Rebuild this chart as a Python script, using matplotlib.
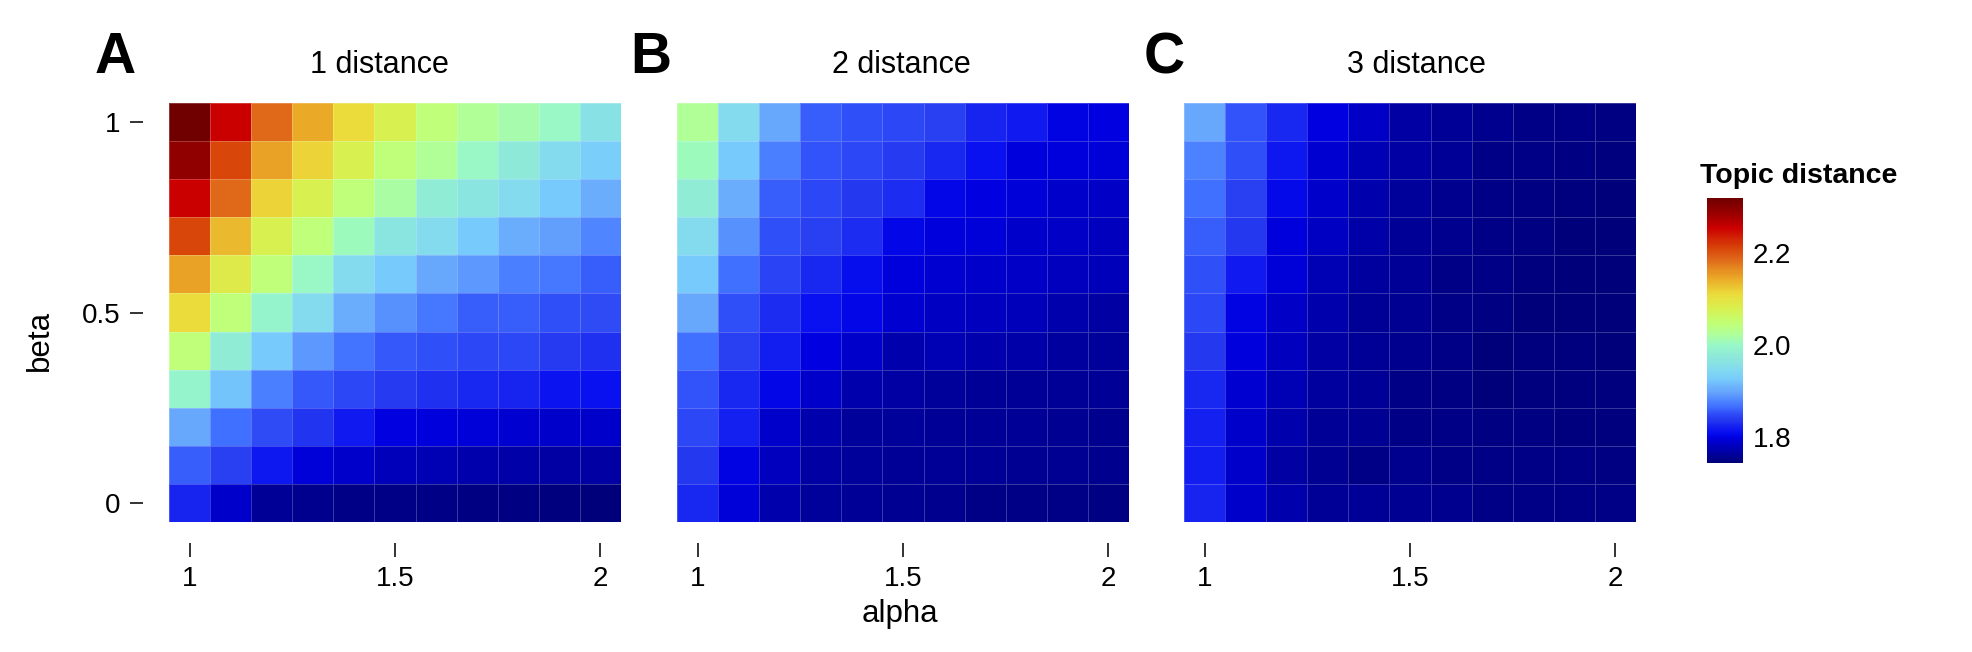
import numpy as np
import matplotlib
matplotlib.use("Agg")
import matplotlib.pyplot as plt
from matplotlib.colors import LinearSegmentedColormap, Normalize

plt.rcParams["font.family"] = ["Liberation Sans", "DejaVu Sans"]

alpha = [1.0, 1.1, 1.2, 1.3, 1.4, 1.5, 1.6, 1.7, 1.8, 1.9, 2.0]
# rows from top (beta = 1) to bottom (beta = 0)
beta = [1.0, 0.9, 0.8, 0.7, 0.6, 0.5, 0.4, 0.3, 0.2, 0.1, 0.0]

dist1 = [
    [2.320, 2.255, 2.185, 2.145, 2.110, 2.080, 2.045, 2.025, 2.015, 2.000, 1.960],
    [2.295, 2.210, 2.150, 2.115, 2.080, 2.045, 2.025, 2.000, 1.975, 1.950, 1.930],
    [2.255, 2.185, 2.115, 2.080, 2.045, 2.020, 1.980, 1.965, 1.950, 1.925, 1.905],
    [2.210, 2.135, 2.080, 2.045, 2.005, 1.965, 1.950, 1.925, 1.905, 1.895, 1.880],
    [2.150, 2.090, 2.045, 2.000, 1.950, 1.925, 1.900, 1.890, 1.875, 1.870, 1.857],
    [2.110, 2.045, 1.995, 1.950, 1.905, 1.885, 1.870, 1.857, 1.857, 1.850, 1.847],
    [2.045, 1.980, 1.925, 1.890, 1.868, 1.855, 1.850, 1.845, 1.845, 1.838, 1.832],
    [1.995, 1.920, 1.875, 1.855, 1.845, 1.838, 1.832, 1.828, 1.826, 1.815, 1.812],
    [1.900, 1.865, 1.847, 1.834, 1.818, 1.798, 1.797, 1.793, 1.790, 1.788, 1.786],
    [1.857, 1.840, 1.816, 1.793, 1.786, 1.778, 1.775, 1.772, 1.769, 1.767, 1.767],
    [1.826, 1.786, 1.759, 1.755, 1.752, 1.750, 1.750, 1.748, 1.748, 1.746, 1.744],
]

dist2 = [
    [2.025, 1.950, 1.900, 1.857, 1.850, 1.845, 1.842, 1.825, 1.818, 1.801, 1.799],
    [2.005, 1.925, 1.875, 1.852, 1.845, 1.838, 1.828, 1.812, 1.797, 1.797, 1.793],
    [1.980, 1.905, 1.857, 1.846, 1.837, 1.830, 1.803, 1.799, 1.793, 1.788, 1.784],
    [1.950, 1.885, 1.850, 1.840, 1.830, 1.803, 1.797, 1.793, 1.788, 1.784, 1.780],
    [1.925, 1.866, 1.843, 1.828, 1.810, 1.797, 1.790, 1.788, 1.784, 1.780, 1.778],
    [1.900, 1.850, 1.830, 1.812, 1.803, 1.790, 1.782, 1.780, 1.778, 1.772, 1.767],
    [1.866, 1.840, 1.820, 1.799, 1.788, 1.772, 1.776, 1.772, 1.769, 1.765, 1.763],
    [1.852, 1.828, 1.803, 1.786, 1.772, 1.767, 1.763, 1.761, 1.761, 1.761, 1.759],
    [1.845, 1.822, 1.788, 1.772, 1.763, 1.763, 1.761, 1.759, 1.759, 1.757, 1.755],
    [1.836, 1.801, 1.780, 1.767, 1.763, 1.761, 1.759, 1.759, 1.757, 1.757, 1.755],
    [1.828, 1.793, 1.772, 1.763, 1.759, 1.757, 1.755, 1.752, 1.752, 1.750, 1.748],
]

dist3 = [
    [1.900, 1.852, 1.828, 1.799, 1.784, 1.767, 1.761, 1.755, 1.752, 1.750, 1.748],
    [1.878, 1.850, 1.816, 1.790, 1.776, 1.767, 1.759, 1.752, 1.750, 1.748, 1.746],
    [1.866, 1.840, 1.806, 1.786, 1.772, 1.763, 1.755, 1.750, 1.748, 1.746, 1.744],
    [1.857, 1.836, 1.797, 1.782, 1.769, 1.761, 1.755, 1.750, 1.748, 1.744, 1.744],
    [1.850, 1.818, 1.793, 1.776, 1.765, 1.759, 1.752, 1.750, 1.746, 1.744, 1.744],
    [1.845, 1.801, 1.784, 1.772, 1.761, 1.757, 1.752, 1.748, 1.744, 1.744, 1.744],
    [1.836, 1.795, 1.780, 1.767, 1.761, 1.755, 1.750, 1.744, 1.746, 1.746, 1.744],
    [1.828, 1.790, 1.776, 1.765, 1.759, 1.752, 1.748, 1.744, 1.746, 1.746, 1.746],
    [1.822, 1.788, 1.772, 1.759, 1.757, 1.752, 1.750, 1.748, 1.748, 1.746, 1.746],
    [1.820, 1.786, 1.767, 1.757, 1.752, 1.755, 1.752, 1.750, 1.750, 1.750, 1.748],
    [1.825, 1.788, 1.772, 1.761, 1.759, 1.757, 1.755, 1.752, 1.752, 1.750, 1.750],
]

panels = [dist1, dist2, dist3]
titles = ["1 distance", "2 distance", "3 distance"]
tags = ["A", "B", "C"]

vmin, vmax = 1.743, 2.32
cb_ticks = [1.8, 2.0, 2.2]

# jet-like palette, as it looks in the picture
stops = [
    (1.743, "#00007A"), (1.760, "#000098"), (1.780, "#0000C0"), (1.797, "#0000E0"),
    (1.810, "#0810F0"), (1.822, "#1420F0"), (1.836, "#2438F0"), (1.850, "#3050F8"),
    (1.865, "#4070FF"), (1.880, "#5088FF"), (1.900, "#68A8FC"), (1.925, "#78CCFC"),
    (1.950, "#84DCEC"), (1.980, "#90ECD4"), (2.000, "#98F8C8"), (2.025, "#B0FF98"),
    (2.045, "#C0FF78"), (2.080, "#D8F050"), (2.110, "#EBDC3C"), (2.145, "#EBAA28"),
    (2.185, "#E06A1A"), (2.210, "#D8480A"), (2.255, "#CC0000"), (2.295, "#900000"),
    (2.320, "#700000"),
]
cmap = LinearSegmentedColormap.from_list(
    "topic", [((v - vmin) / (vmax - vmin), c) for v, c in stops])
norm = Normalize(vmin=vmin, vmax=vmax)

W, H = 1972, 652
fig = plt.figure(figsize=(W / 100, H / 100), dpi=100)


def fx(px):
    return px / W


def fy(py):
    return 1 - py / H


a = np.array(alpha)
b = np.array(beta)
x_edges = np.append(a - 0.05, a[-1] + 0.05)
y_edges = np.append(b + 0.05, b[-1] - 0.05)

lefts = [169, 677, 1184]
title_x = [379, 901, 1416]
tag_x = [115, 651, 1164]

for i, data in enumerate(panels):
    ax = fig.add_axes([fx(lefts[i]), fy(522), 452 / W, 419 / H])
    mesh = ax.pcolormesh(x_edges, y_edges, np.array(data), cmap=cmap, norm=norm,
                         edgecolors=(1, 1, 1, 0.22), linewidth=0.7)
    ax.set_xlim(0.95, 2.05)
    ax.set_ylim(-0.05, 1.05)
    for s in ax.spines.values():
        s.set_visible(False)
    ax.spines["bottom"].set_position(("outward", 15))
    ax.spines["left"].set_position(("outward", 18.5))
    ax.set_xticks([1, 1.5, 2])
    ax.set_xticklabels(["1", "1.5", "2"])
    ax.tick_params(axis="x", length=10, width=1.4, color="#333333", pad=7,
                   labelsize=20)
    if i == 0:
        ax.set_yticks([0, 0.5, 1])
        ax.set_yticklabels(["0", "0.5", "1"])
        ax.tick_params(axis="y", length=9.5, width=1.4, color="#333333", pad=7,
                       labelsize=20)
    else:
        ax.tick_params(axis="y", left=False, labelleft=False)
    fig.text(fx(title_x[i]), fy(73), titles[i], ha="center", va="baseline",
             fontsize=22)
    fig.text(fx(tag_x[i]), fy(73), tags[i], ha="center", va="baseline",
             fontsize=41, fontweight="bold")

fig.text(fx(900), fy(622), "alpha", ha="center", va="baseline", fontsize=22.5)
fig.text(fx(40), fy(340), "beta", ha="center", va="center", rotation=90,
         fontsize=22.5)

cax = fig.add_axes([fx(1707), fy(463), 36 / W, 265 / H])
cb = fig.colorbar(mesh, cax=cax, ticks=cb_ticks)
cb.outline.set_visible(False)
cb.ax.set_yticklabels(["1.8", "2.0", "2.2"])
cax.tick_params(length=0, pad=7, labelsize=20)
fig.text(fx(1700), fy(183), "Topic distance", ha="left", va="baseline",
         fontsize=20.5, fontweight="bold")

fig.savefig("out.png", dpi=100)
